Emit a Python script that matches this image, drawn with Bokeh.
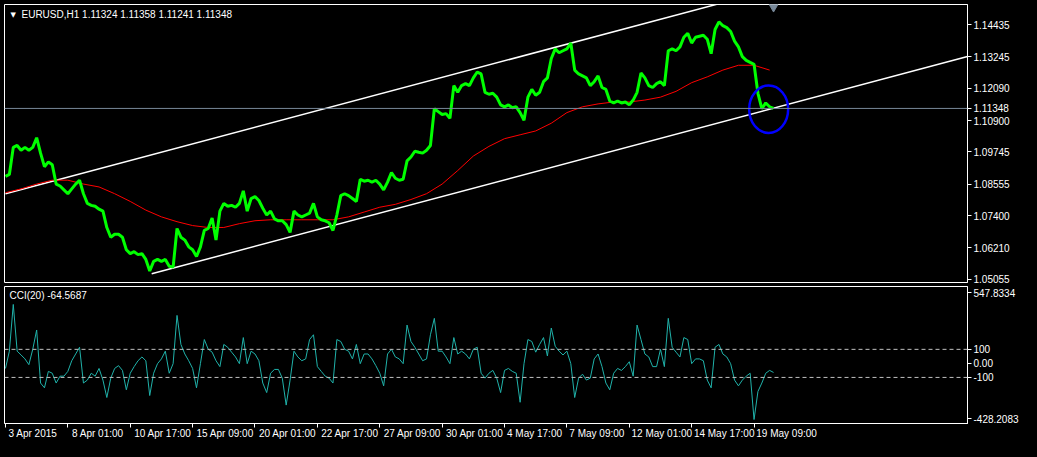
from bokeh.plotting import figure
from bokeh.layouts import column
from bokeh.models import (Range1d, FixedTicker, PrintfTickFormatter, Span, Label, LinearAxis)
from bokeh.embed import file_html
from bokeh.resources import INLINE

# ---------------- data ----------------
symbol_title = "EURUSD,H1  1.11324 1.11358 1.11241 1.11348"
cci_title = "CCI(20) -64.5687"
bid_price = 1.11348

bar_step = 4  # closes sampled every 4 hourly bars
closes = [
    1.08844, 1.08915, 1.09912, 1.09983, 1.09806, 1.09912, 1.09806, 1.09912, 1.10269, 1.09699,
    1.09200, 1.09378, 1.09271, 1.08559, 1.08488, 1.08345, 1.08203, 1.08381, 1.08559, 1.08701,
    1.08203, 1.07846, 1.07775, 1.07739, 1.07633, 1.07561, 1.06956, 1.06600, 1.06707, 1.06707,
    1.06600, 1.06137, 1.05994, 1.06066, 1.05959, 1.05994, 1.05781, 1.05354, 1.05710, 1.05781,
    1.05710, 1.05781, 1.05532, 1.05496, 1.06921, 1.06600, 1.06493, 1.06244, 1.06137, 1.05888,
    1.06244, 1.06849, 1.06921, 1.07312, 1.06493, 1.07561, 1.07846, 1.07739, 1.07775, 1.07704,
    1.07846, 1.08310, 1.07561, 1.08025, 1.08096, 1.07953, 1.07668, 1.07419, 1.07561, 1.07277,
    1.07205, 1.07205, 1.07063, 1.06778, 1.07561, 1.07419, 1.07348, 1.07419, 1.07490, 1.07846,
    1.07348, 1.07241, 1.07205, 1.07134, 1.06849, 1.07419, 1.08132, 1.08203, 1.08132, 1.08025,
    1.07918, 1.08737, 1.08666, 1.08701, 1.08630, 1.08701, 1.08559, 1.08345, 1.08630, 1.08986,
    1.08773, 1.08701, 1.08737, 1.09414, 1.09556, 1.09770, 1.09734, 1.09699, 1.09806, 1.09983,
    1.11337, 1.11230, 1.11123, 1.11158, 1.10981, 1.12191, 1.11942, 1.12191, 1.12263, 1.12191,
    1.12476, 1.12690, 1.12619, 1.11942, 1.11871, 1.11906, 1.11764, 1.11479, 1.11408, 1.11479,
    1.11372, 1.11408, 1.11194, 1.10910, 1.11764, 1.12049, 1.11835, 1.11942, 1.12334, 1.12476,
    1.13189, 1.13545, 1.13402, 1.13474, 1.13545, 1.13759, 1.12761, 1.12619, 1.12548, 1.12476,
    1.12191, 1.12334, 1.12548, 1.12120, 1.12049, 1.11622, 1.11550, 1.11622, 1.11550, 1.11586,
    1.11479, 1.11657, 1.11942, 1.12654, 1.12476, 1.12191, 1.12120, 1.12263, 1.12334, 1.12191,
    1.13474, 1.13545, 1.13474, 1.13616, 1.13972, 1.14115, 1.13759, 1.13972, 1.14008, 1.14044,
    1.13901, 1.13367, 1.14257, 1.14542, 1.14398, 1.14328, 1.14186, 1.13830, 1.13616, 1.13260,
    1.13118, 1.13046, 1.12975, 1.11906, 1.11337, 1.11550, 1.11408, 1.11348,
]

ma_step = 16
ma_values = [
    1.08240, 1.08382, 1.08560, 1.08702, 1.08702, 1.08560, 1.08453, 1.08204, 1.07919, 1.07599,
    1.07350, 1.07172, 1.07029, 1.06958, 1.06958, 1.07100, 1.07207, 1.07243, 1.07243, 1.07243,
    1.07243, 1.07243, 1.07350, 1.07528, 1.07706, 1.07812, 1.07990, 1.08204, 1.08559, 1.09058,
    1.09592, 1.09948, 1.10233, 1.10376, 1.10518, 1.10803, 1.11194, 1.11408, 1.11515, 1.11586,
    1.11586, 1.11657, 1.11764, 1.11978, 1.12298, 1.12512, 1.12761, 1.12939, 1.12939, 1.12761,
]

cci_values = [
    -36, 87, 420, 87, 60, 32, -9, 101, 238, -140,
    -174, -57, -70, -140, -91, -91, -57, 19, 67, 115,
    -140, -119, -70, -91, -36, -119, -243, -105, -36, -16,
    -50, -188, -70, -23, 19, 46, 19, -229, -70, -2,
    32, 87, -70, -2, 342, 135, 67, 19, -36, -174,
    -2, 170, 101, 80, 19, -23, 135, 115, 80, 46,
    -2, 184, -2, 87, 67, 19, -140, -208,
    -70, -43, -43, -105, -297, -119, 87, 46, 19, 32,
    170, 204, -23, -57, -91, -105, -140, 170, 156, 101,
    87, 32, 135, -2, 67, 67, 32, -16, -70, -160,
    67, 101, 46, 32, -2, 273, 156, 115, 67, 19,
    32, 204, 321, 87, 87, 46, -2, 184, 67, 87,
    67, 32, 101, 115, -70, -105, -70, -50, -105, -208,
    -50, -36, -57, -70, -277, -2, 170, 156,
    80, 135, 184, 53, 252, 122, 87, 60, 87, -2,
    -243, -105, -77, -119, -105, 32, 67, -23, -140, -188,
    -70, -36, -50, -23, 12, -91, 273, 170, 67, 46,
    -23, -23, 101, -23, 321, 115, 80, 46, 184, 170,
    -2, 32, 32, 19, -119, -174, 115, 135, 67, 46,
    -2, -119, -160, -119, -91, -70, -400, -200, -140, -70,
    -50, -64.5687,
]
cci_levels = [100, -100]
cci_ticks = [100, 0, -100]
cci_tick_labels = {100: "100", 0: "0.00", -100: "-100"}
cci_max, cci_min = 547.8334, -428.2083

price_ticks = [1.05055, 1.06210, 1.07400, 1.08555, 1.09745, 1.10900, 1.12090, 1.13245, 1.14435]

date_ticks = [0, 64, 128, 192, 256, 320, 384, 448, 512, 576, 640, 704, 768]
date_labels = ["3 Apr 2015", "8 Apr 01:00", "10 Apr 17:00", "15 Apr 09:00", "20 Apr 01:00",
               "22 Apr 17:00", "27 Apr 09:00", "30 Apr 01:00", "4 May 17:00", "7 May 09:00",
               "12 May 01:00", "14 May 17:00", "19 May 09:00"]

# channel lines (bar index, price)
upper_bars = [0, 987]
upper_prices = [1.08204, 1.17650]
lower_bars = [150, 987]
lower_prices = [1.05249, 1.13260]

# highlight ellipse
circle_bar = 783
circle_price = 1.11319
circle_w = 40
circle_h = 0.0175

shift_bar = 788
shift_price = 1.15093

# ---------------- layout ----------------
FONT = "Liberation Sans"
FS = "10px"
W = 1021
LB, RB = 4, 52
FRAME_W = W - LB - RB
CCI_TOP, CCI_BOTTOM, CCI_H = 1, 18, 156
CCI_FRAME_H = CCI_H - CCI_TOP - CCI_BOTTOM
x_range = Range1d(-1, 987)
y_price = Range1d(1.0493, 1.1518)
y_cci = Range1d(cci_min, cci_max)
px_per_bar = FRAME_W / (x_range.end - x_range.start)
cci_per_px = (cci_max - cci_min) / CCI_FRAME_H


def style_axis(ax):
    ax.axis_line_color = "white"
    ax.major_tick_line_color = "white"
    ax.major_tick_out = 4
    ax.major_tick_in = 0
    ax.minor_tick_line_color = None
    ax.major_label_text_color = "white"
    ax.major_label_text_font = FONT
    ax.major_label_text_font_size = FS
    ax.major_label_standoff = 2


p = figure(width=W, height=285, x_range=x_range, y_range=y_price,
           output_backend="svg", toolbar_location=None,
           x_axis_location=None, y_axis_location="right",
           background_fill_color="black", border_fill_color="black",
           min_border_left=LB, min_border_right=RB, min_border_top=4, min_border_bottom=3)
p.grid.visible = False
p.outline_line_color = "white"
p.outline_line_width = 1
style_axis(p.yaxis[0])
p.yaxis[0].ticker = FixedTicker(ticks=price_ticks + [bid_price])
p.yaxis[0].formatter = PrintfTickFormatter(format="%.5f")

p.add_layout(Span(location=bid_price, dimension="width", line_color="#778899", line_width=1))

p.line(x=upper_bars, y=upper_prices, line_color="white", line_width=1.5)
p.line(x=lower_bars, y=lower_prices, line_color="white", line_width=1.5)

ma_bars = [i * ma_step for i in range(len(ma_values))]
p.line(x=ma_bars, y=ma_values, line_color="#FF0000", line_width=1)

price_bars = [i * bar_step for i in range(len(closes))]
p.line(x=price_bars, y=closes, line_color="#00FF00", line_width=3)

p.ellipse(x=[circle_bar], y=[circle_price], width=circle_w, height=circle_h,
          fill_color=None, line_color="#0000FF", line_width=2.5)

p.scatter(x=[shift_bar], y=[shift_price], marker="inverted_triangle", size=9,
          fill_color="#778899", line_color="#778899")

p.add_layout(Label(x=-1, y=1.1518, x_offset=6, y_offset=-6, text="▼", text_color="white",
                   text_font="DejaVu Sans", text_font_size="7px", text_baseline="top"))
p.add_layout(Label(x=-1, y=1.1518, x_offset=17, y_offset=-4, text=symbol_title,
                   text_color="white", text_font=FONT, text_font_size=FS, text_baseline="top"))

# current-price box (only if labels can be drawn outside the frame)
if "clip" in Label.properties():
    bid_box = Label(x=LB + FRAME_W + 1, x_units="screen", y=bid_price, text=f"{bid_price:.5f}",
                    text_color="black", background_fill_color="white", text_font=FONT,
                    text_font_size=FS, text_baseline="middle", text_align="left", padding=2)
    bid_box.clip = False
    p.add_layout(bid_box)

c = figure(width=W, height=CCI_H, x_range=x_range, y_range=y_cci,
           output_backend="svg", toolbar_location=None,
           x_axis_location="below", y_axis_location="right",
           background_fill_color="black", border_fill_color="black",
           min_border_left=LB, min_border_right=RB, min_border_top=CCI_TOP,
           min_border_bottom=CCI_BOTTOM)
c.grid.visible = False
c.outline_line_color = "white"
c.outline_line_width = 1
style_axis(c.yaxis[0])
# scale extremes are printed just inside the panel edges, as the terminal does
top_pos = cci_max - 6 * cci_per_px
bot_pos = cci_min + 5 * cci_per_px
cci_overrides = dict(cci_tick_labels)
cci_overrides[top_pos] = f"{cci_max:.4f}"
cci_overrides[bot_pos] = f"{cci_min:.4f}"
c.yaxis[0].ticker = FixedTicker(ticks=[top_pos] + cci_ticks + [bot_pos])
c.yaxis[0].major_label_overrides = cci_overrides

# time axis: tick marks on one axis, left-aligned labels on a second one
style_axis(c.xaxis[0])
c.xaxis[0].ticker = FixedTicker(ticks=date_ticks)
c.xaxis[0].major_label_overrides = {t: "" for t in date_ticks}
c.xaxis[0].major_label_text_font_size = "0px"
c.xaxis[0].major_label_standoff = 0

label_pos = [t + (len(s) * 5.1 / 2 + 2) / px_per_bar for t, s in zip(date_ticks, date_labels)]
lab_ax = LinearAxis(ticker=FixedTicker(ticks=label_pos),
                    major_label_overrides=dict(zip(label_pos, date_labels)))
style_axis(lab_ax)
lab_ax.axis_line_color = None
lab_ax.major_tick_line_color = None
lab_ax.major_tick_out = 0
lab_ax.major_label_standoff = 0
c.add_layout(lab_ax, "below")

for lv in cci_levels:
    c.add_layout(Span(location=lv, dimension="width", line_color="#C0C0C0",
                      line_dash="4 3", line_width=1))

c.line(x=price_bars, y=cci_values, line_color="#20B2AA", line_width=1)

c.add_layout(Label(x=-1, y=cci_max, x_offset=5, y_offset=-3, text=cci_title, text_color="white",
                   text_font=FONT, text_font_size=FS, text_baseline="top"))

kw = {}
try:
    from bokeh.models import GlobalInlineStyleSheet
    kw["stylesheets"] = [GlobalInlineStyleSheet(css="body { background: #000000; }")]
except Exception:
    pass

layout = column(p, c, spacing=0, **kw)
open("out.html", "w").write(file_html(layout, INLINE))
